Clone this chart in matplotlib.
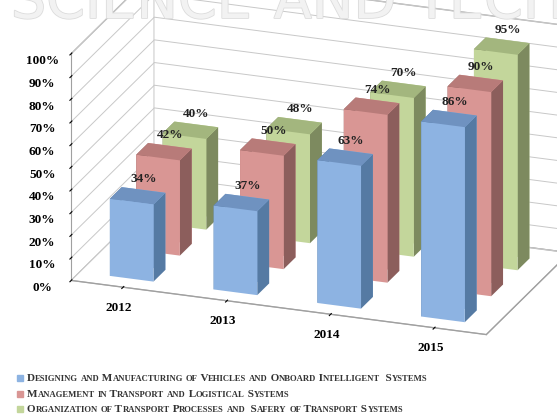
import numpy as np
import matplotlib.pyplot as plt
import matplotlib.patheffects as pe

years = ['2012', '2013', '2014', '2015']
series = ['Designing and Manufacturing of Vehicles and Onboard Intelligent  Systems',
          'Management in Transport and Logistical Systems',
          'Organization of Transport Processes and  Safery of Transport Systems']
vehicles = [34, 37, 63, 86]
management = [42, 50, 74, 90]
organization = [40, 48, 70, 95]
values = [vehicles, management, organization]

face_colors = ['#8db3e2', '#d99694', '#c3d69b']
top_colors = ['#6f92c0', '#b87b79', '#a3b67e']
side_colors = ['#557aa3', '#8c5e5c', '#7d8a5f']

serif = 'Liberation Serif'
W, H = 557, 415

fig = plt.figure(figsize=(W / 100, H / 100), dpi=100)
renderer = fig.canvas.get_renderer()

# faint watermark along the top edge
wm = dict(fontsize=40, color='#f2f2f2', family='DejaVu Sans', va='baseline', zorder=0,
          path_effects=[pe.withStroke(linewidth=1.2, foreground='#dcdcdc')])
fig.text(252 / W, 1 - 18 / H, 'SCIENCE', ha='right', **wm)
fig.text(335 / W, 1 - 18 / H, 'AND', ha='center', **wm)
fig.text(415 / W, 1 - 18 / H, 'TECHNOLOGY', ha='left', **wm)

ax = fig.add_axes([-0.036, 0.066, 1.2, 1.1], projection='3d', proj_type='ortho',
                  computed_zorder=False)
ax.set_facecolor('none')

w, d = 0.42, 0.45
# back row first so the front rows cover it
for i in [2, 1, 0]:
    vals = values[i]
    xs = np.arange(len(years)) - w / 2
    ys = np.full(len(years), i - d / 2)
    cols = []
    for _ in vals:
        cols += ['w', top_colors[i], face_colors[i], face_colors[i],
                 side_colors[i], side_colors[i]]
    ax.bar3d(xs, ys, np.zeros(len(vals)), w, d, vals, color=cols, shade=False,
             edgecolor='none', zorder=5 + (2 - i))

for i, vals in enumerate(values):
    for x, v in zip(np.arange(len(years)), vals):
        ax.text(x, i + d / 2, v + 2, f'{v}%', ha='center', va='bottom', zorder=20,
                fontsize=9.5, fontweight='bold', family=serif, color='#222222')

ax.set_xlim(-0.5, 3.5)
ax.set_ylim(-0.55, 2.6)
ax.set_zlim(0, 100)
ax.set_box_aspect((4, 2.2, 2.2), zoom=1.19)
ax.view_init(elev=21, azim=-70)

ax.set_xticks(np.arange(len(years)))
ax.set_xticklabels(years, fontsize=9.5, fontweight='bold', family=serif)
ax.set_yticks([])
ax.set_zticks(np.arange(0, 101, 10))
ax.set_zticklabels([f'{t}%' for t in range(0, 101, 10)], fontsize=9.5,
                   fontweight='bold', family=serif)

for axis in (ax.xaxis, ax.yaxis, ax.zaxis):
    axis.set_pane_color((1, 1, 1, 1))
    axis.pane.set_edgecolor('#b0b0b0')
    axis.line.set_color('#a0a0a0')
    axis._axinfo['grid']['color'] = '#c8c8c8'
    axis._axinfo['grid']['linewidth'] = 0.7
ax.xaxis._axinfo['grid']['color'] = (1, 1, 1, 0)
ax.yaxis._axinfo['grid']['color'] = (1, 1, 1, 0)
ax.zaxis.set_ticks_position('lower')
ax.tick_params(axis='z', pad=2, length=0)
ax.tick_params(axis='x', pad=0)


def text_width(s, **kw):
    # width in pixels, keeping leading/trailing spaces
    t = fig.text(0, 0, '|' + s + '|', **kw)
    t0 = fig.text(0, 0, '||', **kw)
    wpx = t.get_window_extent(renderer).width - t0.get_window_extent(renderer).width
    t.remove()
    t0.remove()
    return wpx


legend_y = [381, 397, 412]
for lab, c, yb in zip(series, face_colors, legend_y):
    fig.patches.append(plt.Rectangle((17 / W, 1 - yb / H), 6 / W, 6 / H, color=c,
                                     transform=fig.transFigure, figure=fig))
    runs = []
    for ch in lab:
        big = ch.isupper() or not ch.isalpha()
        if runs and runs[-1][1] == big:
            runs[-1][0] += ch
        else:
            runs.append([ch, big])
    xpx = 27
    for s, big in runs:
        kw = dict(fontsize=8.0 if big else 6.2, fontweight='bold', family=serif,
                  color='#333333', va='baseline', ha='left')
        fig.text(xpx / W, 1 - yb / H, s.upper(), **kw)
        xpx += text_width(s.upper(), **kw)

fig.savefig('out.png', dpi=100)
